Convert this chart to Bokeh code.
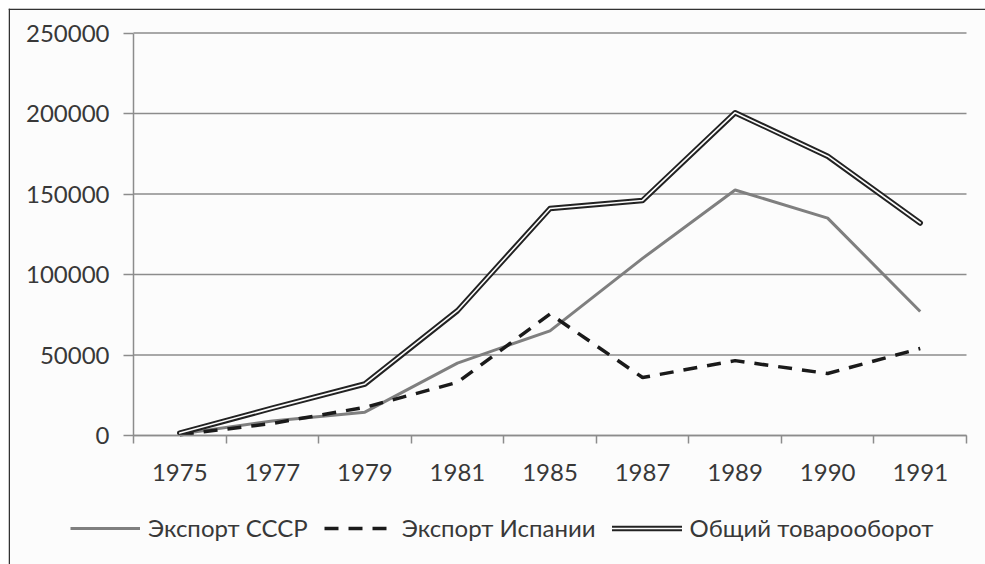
from bokeh.plotting import figure
from bokeh.models import (Range1d, FixedTicker, Legend, LegendItem,
                          NumeralTickFormatter, Span)
from bokeh.embed import file_html
from bokeh.resources import INLINE

years = ["1975", "1977", "1979", "1981", "1985", "1987", "1989", "1990", "1991"]
export_ussr = [1000, 9000, 14500, 45000, 65000, 110000, 152500, 135000, 77000]
export_spain = [500, 7500, 17500, 33000, 75500, 36000, 46500, 38500, 54000]
total = [1500, 17000, 32000, 77500, 141000, 146000, 200500, 173500, 132000]
y_ticks = [0, 50000, 100000, 150000, 200000, 250000]

labels = ["Экспорт СССР", "Экспорт Испании", "Общий товарооборот"]

FONT = "Lato"
TXT = "#383838"
GRID = "#8c8c8c"
BG = "#fcfcfc"

n = len(years)
x = [i + 0.5 for i in range(n)]
ymax = y_ticks[-1]

# layout of the plot area inside the framed chart (pixels)
W, H = 985, 564
fl, ft = 8, 8                    # frame left / top
ax_l, ax_r, ax_t, ax_b = 133, 966, 32.5, 435   # axes box
px_x = (ax_r - ax_l) / n
px_y = (ax_b - ax_t) / ymax
x_range = Range1d(-(ax_l - fl) / px_x, n + (W - ax_r) / px_x)
y_range = Range1d(-(H - ax_b) / px_y, ymax + (ax_t - ft) / px_y)

p = figure(width=W, height=H, output_backend="svg", toolbar_location=None,
           x_range=x_range, y_range=y_range,
           min_border_left=fl, min_border_top=ft, min_border_right=0,
           min_border_bottom=0, background_fill_color=BG,
           border_fill_color="white", outline_line_color=None)
p.grid.visible = False

# frame border (left and top)
p.add_layout(Span(location=0.75, location_units="screen", dimension="height",
                  line_color="#333333", line_width=1.5))
p.add_layout(Span(location=H - ft - 0.75, location_units="screen", dimension="width",
                  line_color="#333333", line_width=1.5))

# grid lines
p.segment(x0=0, x1=n, y0=y_ticks, y1=y_ticks, line_color=GRID, line_width=1.5)

# x axis
xa = p.xaxis[0]
xa.fixed_location = 0
xa.bounds = (0, n)
xa.ticker = FixedTicker(ticks=x, minor_ticks=list(range(n + 1)))
xa.major_label_overrides = {xi: y for xi, y in zip(x, years)}
xa.major_tick_line_color = None
xa.minor_tick_line_color = GRID
xa.minor_tick_out = 8
xa.minor_tick_in = 0
xa.minor_tick_line_width = 1.5
xa.axis_line_color = GRID
xa.axis_line_width = 1.5
xa.major_label_standoff = 20

# y axis
ya = p.yaxis[0]
ya.fixed_location = 0
ya.bounds = (0, ymax)
ya.ticker = FixedTicker(ticks=y_ticks)
ya.formatter = NumeralTickFormatter(format="0")
ya.major_tick_out = 10
ya.major_tick_in = 0
ya.major_tick_line_color = GRID
ya.major_tick_line_width = 1.5
ya.minor_tick_line_color = None
ya.axis_line_color = GRID
ya.axis_line_width = 1.5
ya.major_label_standoff = 14

for ax in (xa, ya):
    ax.major_label_text_font = FONT
    ax.major_label_text_font_size = "24px"
    ax.major_label_text_color = TXT

r_ussr = p.line(x, export_ussr, line_color="#7f7f7f", line_width=3)
r_spain = p.line(x, export_spain, line_color="#1a1a1a", line_width=3.5,
                 line_dash="14 10")
r_tot_o = p.line(x, total, line_color="#222222", line_width=5.5,
                 line_cap="round", line_join="round")
r_tot_i = p.line(x, total, line_color=BG, line_width=1.6,
                 line_cap="round", line_join="round")

legend = Legend(items=[LegendItem(label=labels[0], renderers=[r_ussr]),
                       LegendItem(label=labels[1], renderers=[r_spain]),
                       LegendItem(label=labels[2], renderers=[r_tot_o, r_tot_i])],
                orientation="horizontal", location=(62, 22),
                glyph_width=70, glyph_height=20, label_standoff=8, spacing=16,
                padding=0, margin=0, border_line_color=None,
                background_fill_alpha=0,
                label_text_font=FONT, label_text_font_size="24px",
                label_text_color=TXT)
p.add_layout(legend)

open("out.html", "w").write(file_html(p, INLINE))
